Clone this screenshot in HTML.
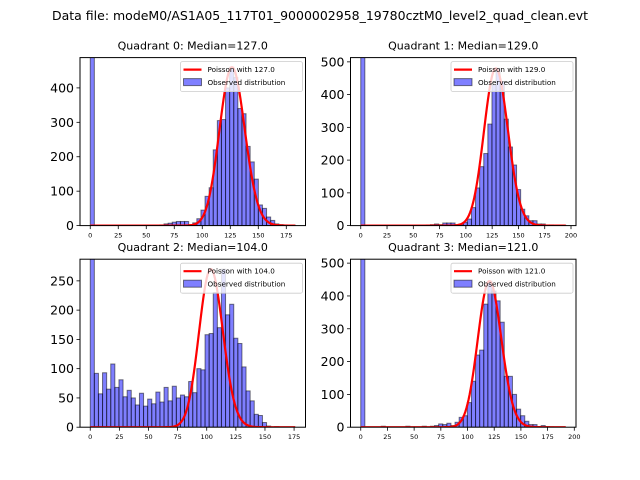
<!DOCTYPE html>
<html><head><meta charset="utf-8"><style>
html,body{margin:0;padding:0;background:#fff;}
svg{display:block;font-family:"DejaVu Sans","Liberation Sans",sans-serif;}
</style></head><body>
<svg id="fig" width="640" height="480" viewBox="0 0 640 480">
<text x="320" y="20" text-anchor="middle" font-size="12.5" textLength="536" lengthAdjust="spacingAndGlyphs">Data file: modeM0/AS1A05_117T01_9000002958_19780cztM0_level2_quad_clean.evt</text>
</svg>
<script>
const medians = [127.0, 129.0, 104.0, 121.0];
const binWidths = [3.66, 3.9, 3.52, 3.84];
const dataMax = [183, 195, 176, 192];
const q0Counts = [2000,0,0,0,0,0,0,0,0,0,0,0,0,0,0,0,0,2,5,7,10,12,12,12,3,8,20,45,85,110,220,305,308,400,460,430,340,325,230,185,135,60,50,25,15,5,3,2,1,1];
const q1Counts = [2000,0,0,0,0,0,0,0,0,0,0,0,0,0,0,0,2,3,5,3,8,8,8,3,5,10,20,55,115,180,220,310,430,480,440,325,240,185,110,50,30,15,15,5,5,2,2,1,1,1];
const q2Counts = [2000,92,57,93,65,108,68,81,52,63,50,38,58,36,48,40,60,43,68,45,70,50,55,52,78,59,100,98,158,160,230,170,270,192,210,152,143,103,62,45,22,20,8,2,0,1,0,0,0,0];
const q3Counts = [2000,0,0,0,0,3,0,0,0,0,0,3,0,0,0,3,0,3,5,10,8,12,5,15,30,35,75,140,220,235,375,445,415,385,320,155,155,100,55,35,18,8,8,2,5,2,1,0,0,0];
const q0YTicks = [0,100,200,300,400];
const q1YTicks = [0,100,200,300,400,500];
const q2YTicks = [0,50,100,150,200,250];
const q3YTicks = [0,100,200,300,400,500];
const xTicksA = [0,25,50,75,100,125,150,175];
const xTicksB = [0,25,50,75,100,125,150,175,200];
const yTops = [488, 513, 287, 512];

const counts = [q0Counts,q1Counts,q2Counts,q3Counts];
const yTicks = [q0YTicks,q1YTicks,q2YTicks,q3YTicks];
const xTicks = [xTicksA,xTicksB,xTicksA,xTicksB];
const NS = 'http://www.w3.org/2000/svg';
const svg = document.getElementById('fig');
const boxes = [[80,57.6],[350.5,57.6],[80,259.2],[350.5,259.2]];
const W = 225.5, H = 168;
function mk(tag, attrs, parent){const e=document.createElementNS(NS,tag);for(const k in attrs)e.setAttribute(k,attrs[k]);(parent||svg).appendChild(e);return e;}
function lnFact(n){let s=0;for(let i=2;i<=n;i++)s+=Math.log(i);return s;}

for(let q=0;q<4;q++){
  const [bx,by]=boxes[q];
  const g=mk('g',{});
  
  
  const xmin=-0.05*dataMax[q], xmax=1.05*dataMax[q];
  const xs=v=>bx+(v-xmin)/(xmax-xmin)*W;
  const ys=v=>by+H-v/yTops[q]*H;
  const cp=mk('clipPath',{id:'clip'+q},g);
  mk('rect',{x:bx,y:by,width:W,height:H},cp);
  const plot=mk('g',{'clip-path':'url(#clip'+q+')'},g);
  const c=counts[q], bw=binWidths[q];
  c.forEach((v,i)=>{
    if(v<=0)return;
    const r=mk('rect',{x:xs(i*bw),y:ys(v),width:xs((i+1)*bw)-xs(i*bw),height:ys(0)-ys(v),fill:'rgba(0,0,255,0.5)',stroke:'rgba(0,0,0,0.5)','stroke-width':1},plot);
    
    
  });
  const lam=medians[q];
  const maxBar=Math.max(...c.slice(1));
  const lp=k=>k*Math.log(lam)-lam-lnFact(k);
  const peak=lp(Math.floor(lam));
  let d='';
  for(let k=0;k<=dataMax[q];k++){const v=Math.exp(lp(k)-peak)*maxBar;d+=(k?'L':'M')+xs(k).toFixed(2)+','+ys(v).toFixed(2);}
  const cur=mk('path',{d:d,fill:'none',stroke:'#ff0000','stroke-width':2.2,'stroke-linejoin':'round'},plot);
  
  
  const fr=mk('rect',{x:bx,y:by,width:W,height:H,fill:'none',stroke:'#000','stroke-width':1},g);
  
  
  xTicks[q].forEach(t=>{
    mk('line',{x1:xs(t),x2:xs(t),y1:by+H,y2:by+H+3.5,stroke:'#000','stroke-width':0.8},g);
    const tx=mk('text',{x:xs(t),y:by+H+12,'font-size':6.5,'text-anchor':'middle'},g);
    tx.textContent=t;
    
    
  });
  yTicks[q].forEach(t=>{
    mk('line',{x1:bx-3.5,x2:bx,y1:ys(t),y2:ys(t),stroke:'#000','stroke-width':0.8},g);
    const tx=mk('text',{x:bx-6,y:ys(t)+4.5,'font-size':12.5,'text-anchor':'end'},g);
    tx.textContent=t;
    
    
  });
  const ti=mk('text',{x:bx+W/2,y:by-8,'font-size':11,'text-anchor':'middle'},g);
  ti.textContent='Quadrant '+q+': Median='+lam.toFixed(1);
  
  
  const lg=mk('g',{},g);
  
  
  const lx=bx+W-125, ly=by+4;
  mk('rect',{x:lx,y:ly,width:122,height:30,rx:2,fill:'rgba(255,255,255,0.8)',stroke:'#ccc','stroke-width':0.8},lg);
  mk('line',{x1:lx+3,x2:lx+21,y1:ly+8,y2:ly+8,stroke:'#f00','stroke-width':2.2},lg);
  const t1=mk('text',{x:lx+27,y:ly+10.5,'font-size':7.2},lg);
  t1.textContent='Poisson with '+lam.toFixed(1);
  
  
  mk('rect',{x:lx+3,y:ly+17,width:18,height:7,fill:'rgba(0,0,255,0.5)',stroke:'rgba(0,0,0,0.5)','stroke-width':1},lg);
  const t2=mk('text',{x:lx+27,y:ly+23.5,'font-size':7.2},lg);
  t2.textContent='Observed distribution';
  
  
}
</script>
</body></html>
